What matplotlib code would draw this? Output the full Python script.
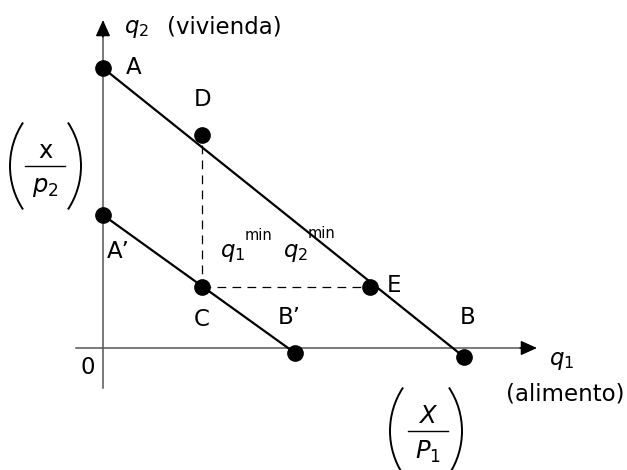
import matplotlib
matplotlib.use("Agg")
import matplotlib.pyplot as plt
from matplotlib.patches import Arc

plt.rcParams['font.family'] = ['DejaVu Sans']
plt.rcParams['mathtext.fontset'] = 'dejavusans'

# budget lines (q1, q2), origin at 0
budget_high = {"A": (0.0, 28.0), "B": (36.1, -0.9)}
budget_low = {"A'": (0.0, 13.3), "B'": (19.2, -0.5)}
point_D = (9.85, 21.3)
point_C = (9.85, 6.1)
point_E = (26.7, 6.1)

W, H = 627, 470
ORX, ORY = 103, 348  # origin position in pixels


def P(x, y):
    # pixel position in the picture -> chart units
    return (x - ORX) / 10, (ORY - y) / 10


fig = plt.figure(figsize=(W / 100, H / 100), dpi=100)
ax = fig.add_axes([0, 0, 1, 1])
ax.set_xlim(-ORX / 10, (W - ORX) / 10)
ax.set_ylim(-(H - ORY) / 10, ORY / 10)
ax.axis('off')

fs = 16.5
axcol = '#555555'

# axes with arrows
ax.plot([P(76, 0)[0], P(530, 0)[0]], [0, 0], color=axcol, lw=1.1, zorder=1)
ax.plot([0, 0], [P(0, 388)[1], P(0, 30)[1]], color=axcol, lw=1.1, zorder=1)
ax.annotate('', xy=P(537, ORY), xytext=P(520, ORY),
            arrowprops=dict(arrowstyle='-|>,head_length=1.0,head_width=0.45',
                            color='black', lw=1, shrinkA=0, shrinkB=0))
ax.annotate('', xy=P(ORX, 20), xytext=P(ORX, 37),
            arrowprops=dict(arrowstyle='-|>,head_length=1.0,head_width=0.45',
                            color='black', lw=1, shrinkA=0, shrinkB=0))

# budget lines
for line in (budget_high, budget_low):
    xs = [v[0] for v in line.values()]
    ys = [v[1] for v in line.values()]
    ax.plot(xs, ys, color='black', lw=1.6, zorder=2)
    ax.plot(xs, ys, 'o', color='black', ms=11, zorder=3)

# dashed guides
ax.plot([point_D[0], point_C[0]], [point_D[1] - 1.0, point_C[1]], color='black',
        lw=0.9, ls=(0, (7, 5)), zorder=1)
ax.plot([point_C[0], point_E[0]], [point_C[1], point_E[1]], color='black',
        lw=0.9, ls=(0, (7, 5)), zorder=1)
for pt in (point_D, point_C, point_E):
    ax.plot(pt[0], pt[1], 'o', color='black', ms=11, zorder=3)

# point labels
labels = [("A", 134, 68), ("D", 203, 100), ("A\u2019", 118, 252), ("C", 202, 319),
          ("B\u2019", 289, 318), ("B", 468, 318), ("E", 394, 286), ("0", 88, 367)]
for t, x, y in labels:
    ax.text(*P(x, y), t, fontsize=fs, ha='center', va='center')

# axis titles
ax.text(*P(124, 28), r'$q_2$', fontsize=fs, ha='left', va='center')
ax.text(*P(167, 27), '(vivienda)', fontsize=fs, ha='left', va='center')
ax.text(*P(549, 360), r'$q_1$', fontsize=fs, ha='left', va='center')
ax.text(*P(565, 394), '(alimento)', fontsize=fs, ha='center', va='center')

# minimum quantities
ax.text(*P(220, 252), r'$q_1$', fontsize=fs, ha='left', va='center')
ax.text(*P(245, 235), 'min', fontsize=10.5, ha='left', va='center')
ax.text(*P(283, 252), r'$q_2$', fontsize=fs, ha='left', va='center')
ax.text(*P(308, 234), 'min', fontsize=10.5, ha='left', va='center')


def paren_fraction(cx, cy, left, right, num, den):
    r = 79
    half = 33.4
    ax.add_patch(Arc(P(left + r, cy), 2 * r / 10, 2 * r / 10,
                     theta1=180 - half, theta2=180 + half, color='black', lw=1.4))
    ax.add_patch(Arc(P(right - r, cy), 2 * r / 10, 2 * r / 10,
                     theta1=-half, theta2=half, color='black', lw=1.4))
    ax.plot([P(cx - 20, 0)[0], P(cx + 20, 0)[0]], [P(0, cy)[1]] * 2,
            color='black', lw=1.0)
    ax.text(*P(cx, cy - 15), num, fontsize=fs + 1, ha='center', va='center')
    ax.text(*P(cx, cy + 21), den, fontsize=fs + 1, ha='center', va='center')


paren_fraction(45, 166, 10, 81, 'x', r'$p_2$')
paren_fraction(428, 431, 390, 462, r'$X$', r'$P_1$')

fig.savefig('out.png', dpi=100)
